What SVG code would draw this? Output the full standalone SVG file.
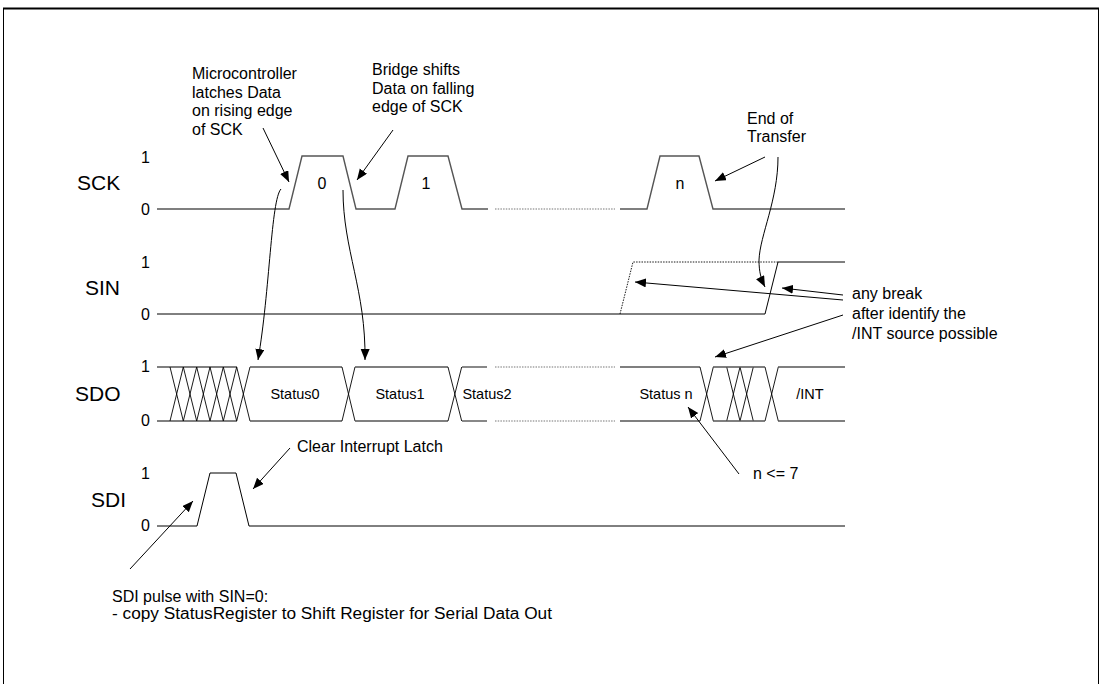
<svg xmlns="http://www.w3.org/2000/svg" width="1102" height="684" viewBox="0 0 1102 684">
<style>
text{font-family:"Liberation Sans",Arial,sans-serif;fill:#000}
.ann{font-size:16px}
.lvl{font-size:16px}
.sig{font-size:21px}
.st{font-size:14.5px;text-anchor:middle}
.pn{font-size:16px;text-anchor:middle}
.w{fill:none;stroke:#555;stroke-width:1.4}
.b{fill:none;stroke:#000;stroke-width:1}
.x{fill:none;stroke:#000;stroke-width:0.9}
.dot{fill:none;stroke:#777;stroke-width:1.2;stroke-dasharray:1.5 1.2}
.dotb{fill:none;stroke:#000;stroke-width:0.9;stroke-dasharray:1.5 1.2}
.ar{fill:none;stroke:#000;stroke-width:1;marker-end:url(#ah)}
</style>
<defs>
<marker id="ah" markerUnits="userSpaceOnUse" markerWidth="12" markerHeight="10" refX="11" refY="4.5" orient="auto">
<path d="M0,0 L11,4.5 L0,9 Z" fill="#000"/>
</marker>
</defs>
<rect width="1102" height="684" fill="#fff"/>
<g id="frame">
<line x1="3" y1="8.5" x2="1099" y2="8.5" stroke="#000" stroke-width="2"/>
<line x1="3.5" y1="8" x2="3.5" y2="684" stroke="#000" stroke-width="1"/>
<line x1="1098.5" y1="8" x2="1098.5" y2="684" stroke="#000" stroke-width="1"/>
</g>
<g id="sck">
<text class="sig" x="77" y="190">SCK</text>
<text class="lvl" x="141" y="163">1</text>
<text class="lvl" x="141" y="215">0</text>
<polyline class="w" points="157,209 289,209 302,156 343,156 356,209 395,209 408,156 448,156 462,209 488,209"/>
<line class="dot" x1="495" y1="209" x2="615" y2="209"/>
<polyline class="w" points="620,209 647,209 660,156 699,156 713,209 845,209"/>
<text class="pn" x="322" y="189">0</text>
<text class="pn" x="426" y="189">1</text>
<text class="pn" x="680" y="189">n</text>
</g>
<g id="sin">
<text class="sig" x="85" y="295">SIN</text>
<text class="lvl" x="141" y="268">1</text>
<text class="lvl" x="141" y="320">0</text>
<polyline class="b" points="157,314 765,314 778,262 845,262"/>
<polyline class="dotb" points="620,314 633,262 778,262"/>
</g>
<g id="sdo">
<text class="sig" x="75" y="401">SDO</text>
<text class="lvl" x="141" y="372">1</text>
<text class="lvl" x="141" y="426">0</text>
<line class="w" x1="157" y1="367" x2="237" y2="367"/>
<line class="w" x1="157" y1="421" x2="237" y2="421"/>
<path class="x" d="M170,367L183.3,421M170,421L183.3,367M183.3,367L196.7,421M183.3,421L196.7,367M196.7,367L210,421M196.7,421L210,367M210,367L223.3,421M210,421L223.3,367M223.3,367L236.7,421M223.3,421L236.7,367M236.7,367L250,421M236.7,421L250,367"/>
<line class="w" x1="250" y1="367" x2="342" y2="367"/>
<line class="w" x1="250" y1="421" x2="342" y2="421"/>
<path class="x" d="M342,367L355,421M342,421L355,367"/>
<line class="w" x1="355" y1="367" x2="448" y2="367"/>
<line class="w" x1="355" y1="421" x2="448" y2="421"/>
<path class="x" d="M448,367L461.7,421M448,421L461.7,367"/>
<line class="w" x1="462" y1="367" x2="487" y2="367"/>
<line class="w" x1="462" y1="421" x2="487" y2="421"/>
<line class="dot" x1="495" y1="367" x2="615" y2="367"/>
<line class="dot" x1="495" y1="421" x2="615" y2="421"/>
<line class="w" x1="620" y1="367" x2="700" y2="367"/>
<line class="w" x1="620" y1="421" x2="700" y2="421"/>
<path class="x" d="M700,367L713.3,421M700,421L713.3,367M726.7,367L740,421M726.7,421L740,367M740,367L753.3,421M740,421L753.3,367M765,367L778.3,421M765,421L778.3,367"/>
<line class="w" x1="713" y1="367" x2="765" y2="367"/>
<line class="w" x1="713" y1="421" x2="765" y2="421"/>
<line class="w" x1="778" y1="367" x2="845" y2="367"/>
<line class="w" x1="778" y1="421" x2="845" y2="421"/>
<text class="st" x="295" y="399">Status0</text>
<text class="st" x="400" y="399">Status1</text>
<text class="st" x="487" y="399">Status2</text>
<text class="st" x="666" y="399">Status n</text>
<text class="st" x="810" y="399">/INT</text>
</g>
<g id="sdi">
<text class="sig" x="91" y="507">SDI</text>
<text class="lvl" x="141" y="479">1</text>
<text class="lvl" x="141" y="531">0</text>
<polyline class="b" points="157,526 197,526 210,473 236,473 249,526 845,526"/>
</g>
<g id="notes">
<text class="ann" x="192" y="79">Microcontroller</text>
<text class="ann" x="192" y="97.5">latches Data</text>
<text class="ann" x="192" y="116">on rising edge</text>
<text class="ann" x="192" y="135">of SCK</text>
<text class="ann" x="372" y="75">Bridge shifts</text>
<text class="ann" x="372" y="93.5">Data on falling</text>
<text class="ann" x="372" y="112">edge of SCK</text>
<text class="ann" x="747" y="124">End of</text>
<text class="ann" x="747" y="142">Transfer</text>
<text class="ann" x="852" y="299">any break</text>
<text class="ann" x="852" y="319">after identify the</text>
<text class="ann" x="852" y="339">/INT source possible</text>
<text class="ann" x="753" y="479">n &lt;= 7</text>
<text class="ann" x="297" y="452">Clear Interrupt Latch</text>
<text class="ann" x="112" y="602">SDI pulse with SIN=0:</text>
<text class="ann" x="112" y="619" textLength="440" lengthAdjust="spacingAndGlyphs">- copy StatusRegister to Shift Register for Serial Data Out</text>
</g>
<g id="connectors">
<line class="ar" x1="263" y1="128" x2="289" y2="182"/>
<line class="ar" x1="393" y1="130" x2="357" y2="180"/>
<line class="ar" x1="765" y1="157" x2="715" y2="181"/>
<path class="ar" d="M281,189 C271,200 270,290 258,360"/>
<path class="ar" d="M343,190 C343,250 366,290 365,360"/>
<path class="ar" d="M778,157 C778,200 760,235 759,260 C759,272 761,279 765,287"/>
<line class="ar" x1="843" y1="300" x2="635" y2="282"/>
<line class="ar" x1="843" y1="295" x2="782" y2="288"/>
<line class="ar" x1="843" y1="315" x2="715" y2="357"/>
<line class="ar" x1="739" y1="474" x2="688" y2="407"/>
<line class="ar" x1="290" y1="448" x2="253" y2="489"/>
<line class="ar" x1="130" y1="569" x2="193" y2="501"/>
</g>
</svg>
